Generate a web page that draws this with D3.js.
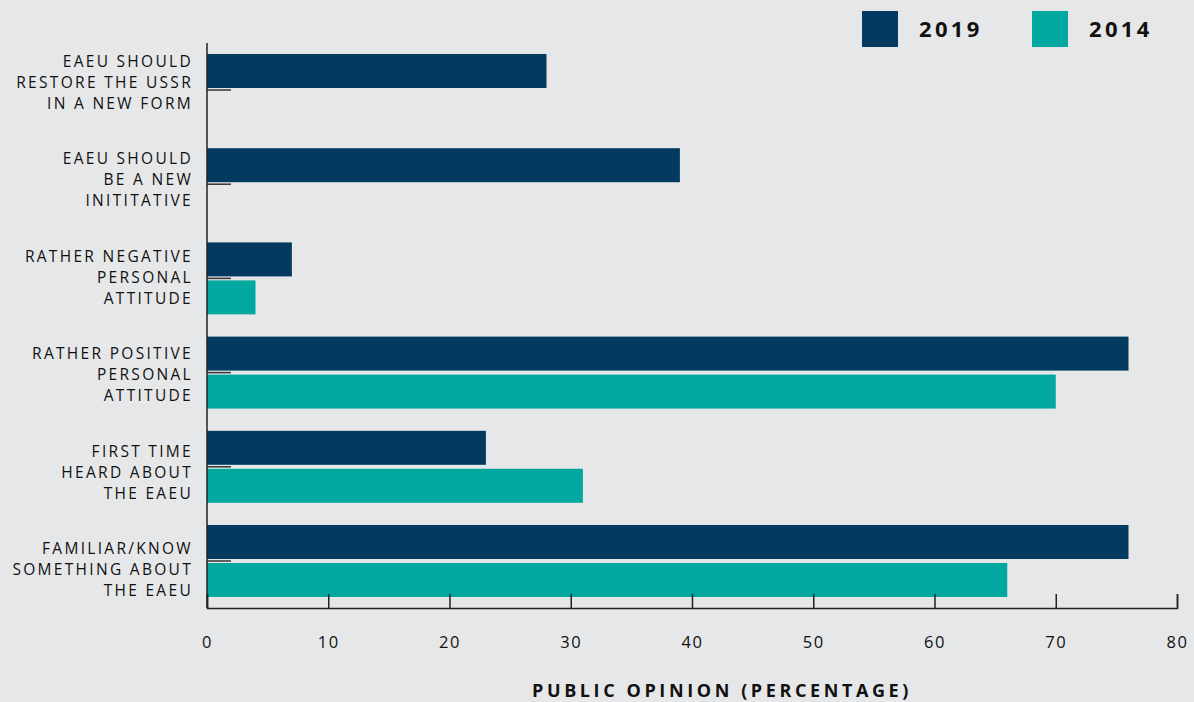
<!DOCTYPE html>
<html>
<head>
<meta charset="utf-8">
<script src="https://cdn.jsdelivr.net/npm/d3@7"></script>
<style>
  body { margin: 0; background: #e6e7e9; }
  text { font-family: "Open Sans", "Noto Sans", sans-serif; fill: #111; }
</style>
</head>
<body>
<div id="chart"></div>
<script>
var categories = ["restore", "newinit", "negative", "positive", "firsttime", "familiar"];
var labels = [
  ["EAEU SHOULD", "RESTORE THE USSR", "IN A NEW FORM"],
  ["EAEU SHOULD", "BE A NEW", "INITITATIVE"],
  ["RATHER NEGATIVE", "PERSONAL", "ATTITUDE"],
  ["RATHER POSITIVE", "PERSONAL", "ATTITUDE"],
  ["FIRST TIME", "HEARD ABOUT", "THE EAEU"],
  ["FAMILIAR/KNOW", "SOMETHING ABOUT", "THE EAEU"]
];
var years = ["2019", "2014"];
var values2019 = [28, 39, 7, 76, 23, 76];
var values2014 = [null, null, 4, 70, 31, 66];
var xTicks = [0, 10, 20, 30, 40, 50, 60, 70, 80];
var colors = ["#023a60", "#00a8a0"];

var width = 1194, height = 702;
var svg = d3.select("#chart").append("svg")
    .attr("width", width)
    .attr("height", height);

var x = d3.scaleLinear().domain([0, 80]).range([207, 1177]);
var y = d3.scaleBand().domain(categories).range([43, 608]).paddingInner(0.236).paddingOuter(0.117);
var sub = d3.scaleBand().domain(years).range([0, y.bandwidth()]).paddingInner(0.105);
// label blocks sit on a slightly wider spacing than the bars
var ly = d3.scalePoint().domain(categories).range([83, 570]);

// bars
var rows = svg.selectAll("g.row")
    .data(categories)
    .enter().append("g")
    .attr("class", "row")
    .attr("transform", function(d) { return "translate(0," + y(d) + ")"; });

rows.each(function(c, i) {
  var g = d3.select(this);
  var pts = [{yr: "2019", v: values2019[i]}, {yr: "2014", v: values2014[i]}]
    .filter(function(p) { return p.v != null; });
  g.selectAll("rect")
    .data(pts)
    .enter().append("rect")
    .attr("x", x(0))
    .attr("y", function(p) { return sub(p.yr); })
    .attr("width", function(p) { return x(p.v) - x(0); })
    .attr("height", sub.bandwidth())
    .attr("fill", function(p) { return colors[years.indexOf(p.yr)]; });
  // short stub tick at band centre
  g.append("line")
    .attr("x1", x(0)).attr("x2", x(0) + 24)
    .attr("y1", y.bandwidth() / 2).attr("y2", y.bandwidth() / 2)
    .attr("stroke", "#333").attr("stroke-width", 1.5);
});

// y axis line
svg.append("line")
  .attr("x1", x(0)).attr("x2", x(0))
  .attr("y1", 43).attr("y2", 608)
  .attr("stroke", "#222").attr("stroke-width", 1.5);

// category labels
var lab = svg.selectAll("text.cat")
    .data(categories)
    .enter().append("text")
    .attr("class", "cat")
    .attr("text-anchor", "end")
    .style("font-size", "15.5px")
    .style("letter-spacing", "2.3px");
lab.each(function(c, i) {
  var t = d3.select(this);
  labels[i].forEach(function(line, j) {
    t.append("tspan")
      .attr("x", 193)
      .attr("y", ly(c) + (j - 1) * 21 + 5)
      .text(line);
  });
});

// x axis
var xAxis = d3.axisBottom(x)
    .tickValues(xTicks)
    .tickSize(-14)
    .tickSizeOuter(-14);
var gx = svg.append("g")
    .attr("transform", "translate(0,608)")
    .call(xAxis);
gx.select(".domain").attr("stroke", "#222").attr("stroke-width", 1.5);
gx.selectAll(".tick line").attr("stroke", "#222").attr("stroke-width", 1.5);
gx.selectAll(".tick text")
    .attr("y", 34)
    .attr("dy", "0.35em")
    .style("font-family", "'Open Sans', sans-serif")
    .style("font-size", "16.5px")
    .style("letter-spacing", "1.5px")
    .attr("fill", "#111");

svg.append("text")
  .attr("x", 722)
  .attr("y", 697)
  .attr("text-anchor", "middle")
  .style("font-size", "18px")
  .style("font-weight", "bold")
  .style("letter-spacing", "3.6px")
  .text("PUBLIC OPINION (PERCENTAGE)");

// legend
var legend = svg.selectAll("g.legend")
    .data(years)
    .enter().append("g")
    .attr("class", "legend")
    .attr("transform", function(d, i) { return "translate(" + (862 + i * 170) + ",11)"; });
legend.append("rect")
  .attr("width", 36).attr("height", 36)
  .attr("fill", function(d, i) { return colors[i]; });
legend.append("text")
  .attr("x", 57)
  .attr("y", 26)
  .style("font-size", "22px")
  .style("font-weight", "bold")
  .style("letter-spacing", "3.3px")
  .text(function(d) { return d; });
</script>
</body>
</html>
